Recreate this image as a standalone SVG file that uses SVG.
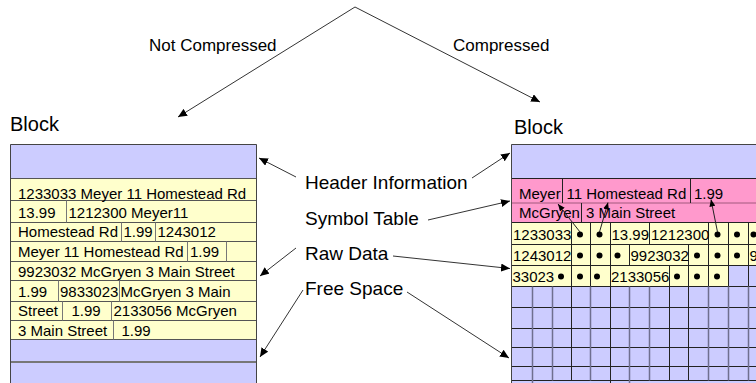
<svg xmlns="http://www.w3.org/2000/svg" width="756" height="383" viewBox="0 0 756 383">
  <style>
    text { font-family: "Liberation Sans", Arial, sans-serif; fill: #000; }
    .cap { font-size: 17px; }
    .blk { font-size: 20px; }
    .lbl { font-size: 19px; }
    .d { font-size: 15px; }
    .hdr { fill: #ccccff; }
    .raw { fill: #ffffcc; }
    .sym { fill: #ff99cc; }
    .frame { fill: none; stroke: #444; stroke-width: 1; }
    .rule { stroke: #555; stroke-width: 1; }
    .sep { stroke: #777; stroke-width: 1; }
    .cell { stroke: #222; stroke-width: 1; }
    .grid { stroke: #222; stroke-width: 1; }
    .gridg { stroke: #6f6f8f; stroke-width: 1.5; }
    .edge { fill: none; stroke: #333; stroke-width: 1; marker-end: url(#tip); }
    .ref { fill: none; stroke: #222; stroke-width: 1; marker-end: url(#tipS); }
  </style>
  <defs>
    <marker id="tip" markerWidth="9" markerHeight="8" refX="9" refY="4" orient="auto" markerUnits="userSpaceOnUse">
      <path d="M0,0 L9,4 L0,8 z" fill="#000"/>
    </marker>
    <marker id="tipS" markerWidth="7" markerHeight="6" refX="7" refY="3" orient="auto" markerUnits="userSpaceOnUse">
      <path d="M0,0 L7,3 L0,6 z" fill="#000"/>
    </marker>
    <circle id="dot" r="3" fill="#000"/>
  </defs>

  <!-- split captions -->
  <g id="captions">
    <text class="cap" x="149" y="51">Not Compressed</text>
    <text class="cap" x="453" y="51">Compressed</text>
    <text class="blk" x="10" y="131">Block</text>
    <text class="blk" x="514" y="134">Block</text>
  </g>

  <!-- uncompressed block -->
  <g id="block-plain">
    <rect class="hdr" x="10" y="144" width="247" height="239"/>
    <rect class="raw" x="10" y="178.5" width="247" height="161"/>
    <g class="rule">
      <line x1="10" y1="178.5" x2="257" y2="178.5"/>
      <line x1="10" y1="200.5" x2="257" y2="200.5"/>
      <line x1="10" y1="222.5" x2="257" y2="222.5"/>
      <line x1="10" y1="241.5" x2="257" y2="241.5"/>
      <line x1="10" y1="261.5" x2="257" y2="261.5"/>
      <line x1="10" y1="280.5" x2="257" y2="280.5"/>
      <line x1="10" y1="301.5" x2="257" y2="301.5"/>
      <line x1="10" y1="320.5" x2="257" y2="320.5"/>
      <line x1="10" y1="339.5" x2="257" y2="339.5"/>
    </g>
    <line x1="10" y1="362" x2="257" y2="362" stroke="#777" stroke-width="2"/>
    <g class="sep">
      <line x1="66.5" y1="200.5" x2="66.5" y2="222.5"/>
      <line x1="121.5" y1="222.5" x2="121.5" y2="241.5"/>
      <line x1="155.5" y1="222.5" x2="155.5" y2="241.5"/>
      <line x1="187.5" y1="241.5" x2="187.5" y2="261.5"/>
      <line x1="226.5" y1="241.5" x2="226.5" y2="261.5"/>
      <line x1="58.5" y1="280.5" x2="58.5" y2="301.5"/>
      <line x1="119.5" y1="280.5" x2="119.5" y2="301.5"/>
      <line x1="62.5" y1="301.5" x2="62.5" y2="320.5"/>
      <line x1="111.5" y1="301.5" x2="111.5" y2="320.5"/>
      <line x1="113.5" y1="320.5" x2="113.5" y2="339.5"/>
    </g>
    <path class="frame" d="M10.5,383 V144.5 H256.5 V383"/>
    <g class="d">
      <text x="18" y="199">1233033 Meyer 11 Homestead Rd</text>
      <text x="18" y="218">13.99</text>
      <text x="68.5" y="218">1212300 Meyer11</text>
      <text x="18" y="237">Homestead Rd</text>
      <text x="123.5" y="237">1.99</text>
      <text x="157.5" y="237">1243012</text>
      <text x="18" y="257">Meyer 11 Homestead Rd</text>
      <text x="190" y="257">1.99</text>
      <text x="18" y="276.5">9923032 McGryen 3 Main Street</text>
      <text x="18" y="297">1.99</text>
      <text x="60" y="297">9833023</text>
      <text x="120.5" y="297">McGryen 3 Main</text>
      <text x="18" y="316">Street</text>
      <text x="71.5" y="316">1.99</text>
      <text x="113.5" y="316">2133056 McGryen</text>
      <text x="18" y="335.5">3 Main Street</text>
      <text x="121.5" y="335.5">1.99</text>
    </g>
  </g>

  <!-- compressed block -->
  <g id="block-compressed">
    <rect class="hdr" x="511" y="144" width="245" height="239"/>
    <rect class="sym" x="511" y="178.5" width="245" height="44"/>
    <rect class="raw" x="511" y="222.5" width="245" height="43"/>
    <rect class="raw" x="511" y="265.5" width="217.5" height="21"/>

    <!-- horizontal rules -->
    <g class="grid">
      <line x1="511" y1="178.5" x2="756" y2="178.5"/>
      <line x1="511" y1="222.5" x2="756" y2="222.5"/>
      <line x1="511" y1="244.5" x2="756" y2="244.5"/>
      <line x1="511" y1="265.5" x2="756" y2="265.5"/>
      <line x1="511" y1="286.5" x2="756" y2="286.5"/>
      <line x1="511" y1="307.5" x2="756" y2="307.5"/>
      <line x1="511" y1="328.5" x2="756" y2="328.5"/>
      <line x1="511" y1="347.5" x2="756" y2="347.5"/>
      <line x1="511" y1="366.5" x2="756" y2="366.5"/>
      <line x1="511" y1="380.5" x2="756" y2="380.5"/>
    </g>
    <line x1="511" y1="203" x2="756" y2="203" stroke="#8a4a6a" stroke-width="0.8"/>

    <!-- symbol table separators -->
    <g class="cell">
      <line x1="562.5" y1="178.5" x2="562.5" y2="203"/>
      <line x1="690.5" y1="178.5" x2="690.5" y2="203"/>
      <line x1="581.5" y1="203" x2="581.5" y2="222.5"/>
    </g>

    <!-- raw data cell separators -->
    <g class="cell">
      <line x1="571.5" y1="222.5" x2="571.5" y2="244.5"/>
      <line x1="590.5" y1="222.5" x2="590.5" y2="244.5"/>
      <line x1="610.5" y1="222.5" x2="610.5" y2="244.5"/>
      <line x1="649.5" y1="222.5" x2="649.5" y2="244.5"/>
      <line x1="708.5" y1="222.5" x2="708.5" y2="244.5"/>
      <line x1="728.5" y1="222.5" x2="728.5" y2="244.5"/>
      <line x1="748.5" y1="222.5" x2="748.5" y2="244.5"/>

      <line x1="571.5" y1="244.5" x2="571.5" y2="265.5"/>
      <line x1="590.5" y1="244.5" x2="590.5" y2="265.5"/>
      <line x1="610.5" y1="244.5" x2="610.5" y2="265.5"/>
      <line x1="629.5" y1="244.5" x2="629.5" y2="265.5"/>
      <line x1="688.5" y1="244.5" x2="688.5" y2="265.5"/>
      <line x1="708.5" y1="244.5" x2="708.5" y2="265.5"/>
      <line x1="728.5" y1="244.5" x2="728.5" y2="265.5"/>
      <line x1="748.5" y1="244.5" x2="748.5" y2="265.5"/>

      <line x1="571.5" y1="265.5" x2="571.5" y2="286.5"/>
      <line x1="590.5" y1="265.5" x2="590.5" y2="286.5"/>
      <line x1="610.5" y1="265.5" x2="610.5" y2="286.5"/>
      <line x1="669.5" y1="265.5" x2="669.5" y2="286.5"/>
      <line x1="688.5" y1="265.5" x2="688.5" y2="286.5"/>
      <line x1="708.5" y1="265.5" x2="708.5" y2="286.5"/>
      <line x1="728.5" y1="265.5" x2="728.5" y2="286.5"/>
      <line x1="748.5" y1="265.5" x2="748.5" y2="286.5"/>
    </g>

    <!-- free space grid columns -->
    <g class="gridg">
      <line x1="532.5" y1="286.5" x2="532.5" y2="383"/>
      <line x1="552.5" y1="286.5" x2="552.5" y2="380.5"/>
      <line x1="590.5" y1="286.5" x2="590.5" y2="380.5"/>
      <line x1="629.5" y1="286.5" x2="629.5" y2="383"/>
      <line x1="649.5" y1="286.5" x2="649.5" y2="380.5"/>
      <line x1="708.5" y1="286.5" x2="708.5" y2="380.5"/>
      <line x1="728.5" y1="286.5" x2="728.5" y2="380.5"/>
      <line x1="748.5" y1="286.5" x2="748.5" y2="380.5"/>
    </g>
    <g class="grid">
      <line x1="571.5" y1="286.5" x2="571.5" y2="380.5"/>
      <line x1="610.5" y1="286.5" x2="610.5" y2="383"/>
      <line x1="669.5" y1="286.5" x2="669.5" y2="380.5"/>
      <line x1="688.5" y1="286.5" x2="688.5" y2="380.5"/>
    </g>

    <path class="frame" d="M511.5,383 V144.5 H756"/>

    <g class="d">
      <text x="519" y="198.5">Meyer</text>
      <text x="566.5" y="198.5">11 Homestead Rd</text>
      <text x="694" y="198.5">1.99</text>
      <text x="519" y="218">McGryen</text>
      <text x="586" y="218">3 Main Street</text>

      <text x="513" y="239.5">1233033</text>
      <text x="611.5" y="239.5">13.99</text>
      <text x="651" y="239.5">1212300</text>
      <text x="513" y="260.5">1243012</text>
      <text x="630.5" y="260.5">9923032</text>
      <text x="749.5" y="260.5">9</text>
      <text x="512.5" y="281.5">33023</text>
      <text x="611" y="281.5">2133056</text>
    </g>

    <g id="pointers">
      <use href="#dot" x="580" y="234.5"/>
      <use href="#dot" x="599.5" y="234.5"/>
      <use href="#dot" x="717.5" y="234.5"/>
      <use href="#dot" x="737" y="234.5"/>
      <use href="#dot" x="753.5" y="234.5"/>
      <use href="#dot" x="580" y="255.5"/>
      <use href="#dot" x="599.5" y="255.5"/>
      <use href="#dot" x="617.5" y="255.5"/>
      <use href="#dot" x="697" y="255.5"/>
      <use href="#dot" x="717.5" y="255.5"/>
      <use href="#dot" x="737" y="255.5"/>
      <use href="#dot" x="561" y="276.5"/>
      <use href="#dot" x="580" y="276.5"/>
      <use href="#dot" x="597" y="276.5"/>
      <use href="#dot" x="677" y="276.5"/>
      <use href="#dot" x="697" y="276.5"/>
      <use href="#dot" x="717" y="276.5"/>
    </g>
  </g>

  <!-- part labels -->
  <g id="labels" class="lbl">
    <text x="305" y="189">Header Information</text>
    <text x="305" y="225">Symbol Table</text>
    <text x="305" y="260">Raw Data</text>
    <text x="305" y="295">Free Space</text>
  </g>

  <!-- connectors -->
  <g id="connectors">
    <path class="edge" d="M355,7 L178,117"/>
    <path class="edge" d="M355,7 L540,102"/>
    <path class="edge" d="M296,177 L259,158"/>
    <path class="edge" d="M472,178 L510,153"/>
    <path class="edge" d="M428,220 L510,201"/>
    <path class="edge" d="M296,248 L260,276"/>
    <path class="edge" d="M393,256 L510,268.5"/>
    <path class="edge" d="M303,290 L260,357"/>
    <path class="edge" d="M407,292 L509,358"/>
    <path class="ref" d="M580,232 L558,204"/>
    <path class="ref" d="M599.5,232 L608,202.5"/>
    <path class="ref" d="M717.5,232 L711,199.5"/>
  </g>
</svg>
